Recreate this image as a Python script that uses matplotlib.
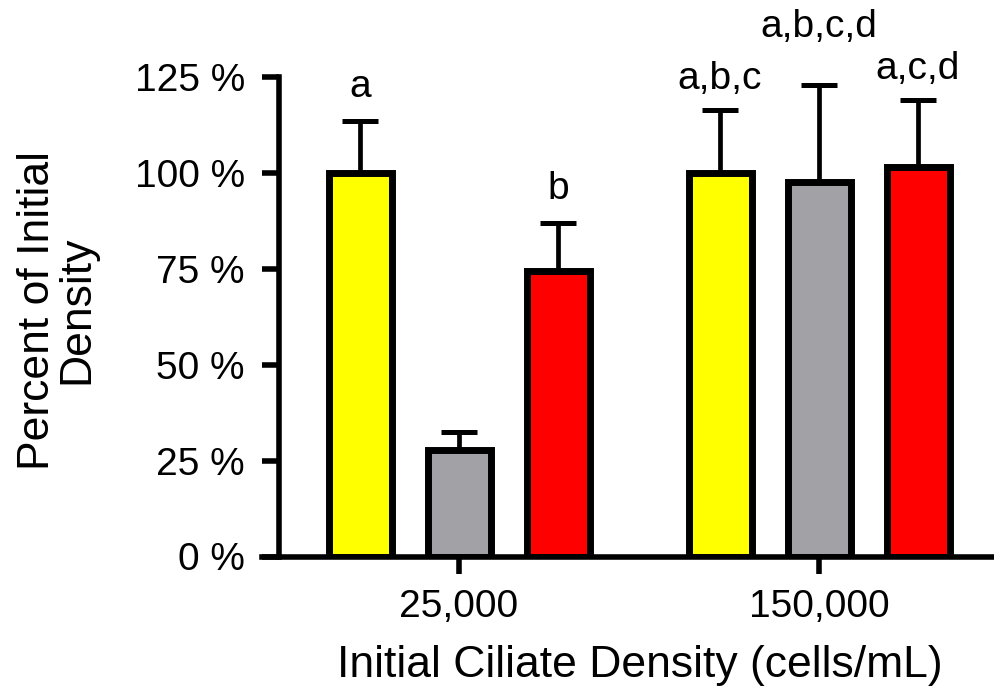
import numpy as np
import matplotlib
matplotlib.use("Agg")
import matplotlib.pyplot as plt

plt.rcParams['font.family'] = ['Liberation Sans', 'DejaVu Sans']

# data
groups = ['25,000', '150,000']
colors = ['#ffff00', '#a2a1a6', '#ff0000']
means_25k = [100.0, 27.7, 74.4]
err_25k = [13.5, 4.7, 12.6]
means_150k = [100.0, 97.7, 101.5]
err_150k = [16.5, 25.3, 17.4]
letters_25k = ['a', '', 'b']
letters_150k = ['a,b,c', 'a,b,c,d', 'a,c,d']
letter_y_25k = [119.8, None, 93.2]
letter_y_150k = [121.8, 135.3, 124.4]

fig = plt.figure(figsize=(9.94, 6.89), dpi=100)
W, H = 994, 689
ax_left, ax_right = 262, 994
ax_bottom, ax_top = 556.5, 77
ax = fig.add_axes([ax_left / W, (H - ax_bottom) / H,
                   (ax_right - ax_left) / W, (ax_bottom - ax_top) / H])

offset = 0.275
width = 0.175
xg = np.arange(len(groups))
all_means = [means_25k, means_150k]
all_err = [err_25k, err_150k]
all_letters = [letters_25k, letters_150k]
all_ly = [letter_y_25k, letter_y_150k]

for g in range(len(groups)):
    for i in range(3):
        x = xg[g] + (i - 1) * offset
        m = all_means[g][i]
        e = all_err[g][i]
        ax.errorbar(x, m, yerr=[[0], [e]], color='black', elinewidth=3.4,
                    capsize=13, capthick=3.6, zorder=1)
        ax.bar(x, m, width=width, color=colors[i], edgecolor='black',
               linewidth=5, zorder=2)
        if all_letters[g][i]:
            ax.text(x, all_ly[g][i], all_letters[g][i], ha='center',
                    va='baseline', fontsize=28, clip_on=False)

px_per_unit = 360.0
ax.set_xlim((ax_left - 459) / px_per_unit, (ax_right - 459) / px_per_unit)
ax.set_ylim(0, 125)

ax.spines['top'].set_visible(False)
ax.spines['right'].set_visible(False)
ax.spines['left'].set_position(('axes', (279 - ax_left) / (ax_right - ax_left)))
for s in ['left', 'bottom']:
    ax.spines[s].set_linewidth(4)
    ax.spines[s].set_zorder(3)

ax.set_yticks([0, 25, 50, 75, 100, 125])
ax.set_yticklabels(['0 %', '25 %', '50 %', '75 %', '100 %', '125 %'])
ax.set_xticks(xg)
ax.set_xticklabels(groups)
ax.tick_params(axis='both', labelsize=28, width=4, length=12.5)
ax.tick_params(axis='y', pad=12)
ax.tick_params(axis='x', pad=11)

fig.text(640 / W, 1 - 665 / H, 'Initial Ciliate Density (cells/mL)',
         ha='center', va='center', fontsize=32)
fig.text(57 / W, 1 - 310 / H, 'Percent of Initial\nDensity', rotation=90,
         ha='center', va='center', multialignment='center', fontsize=32,
         linespacing=0.95)

fig.savefig('out.png', dpi=100)
